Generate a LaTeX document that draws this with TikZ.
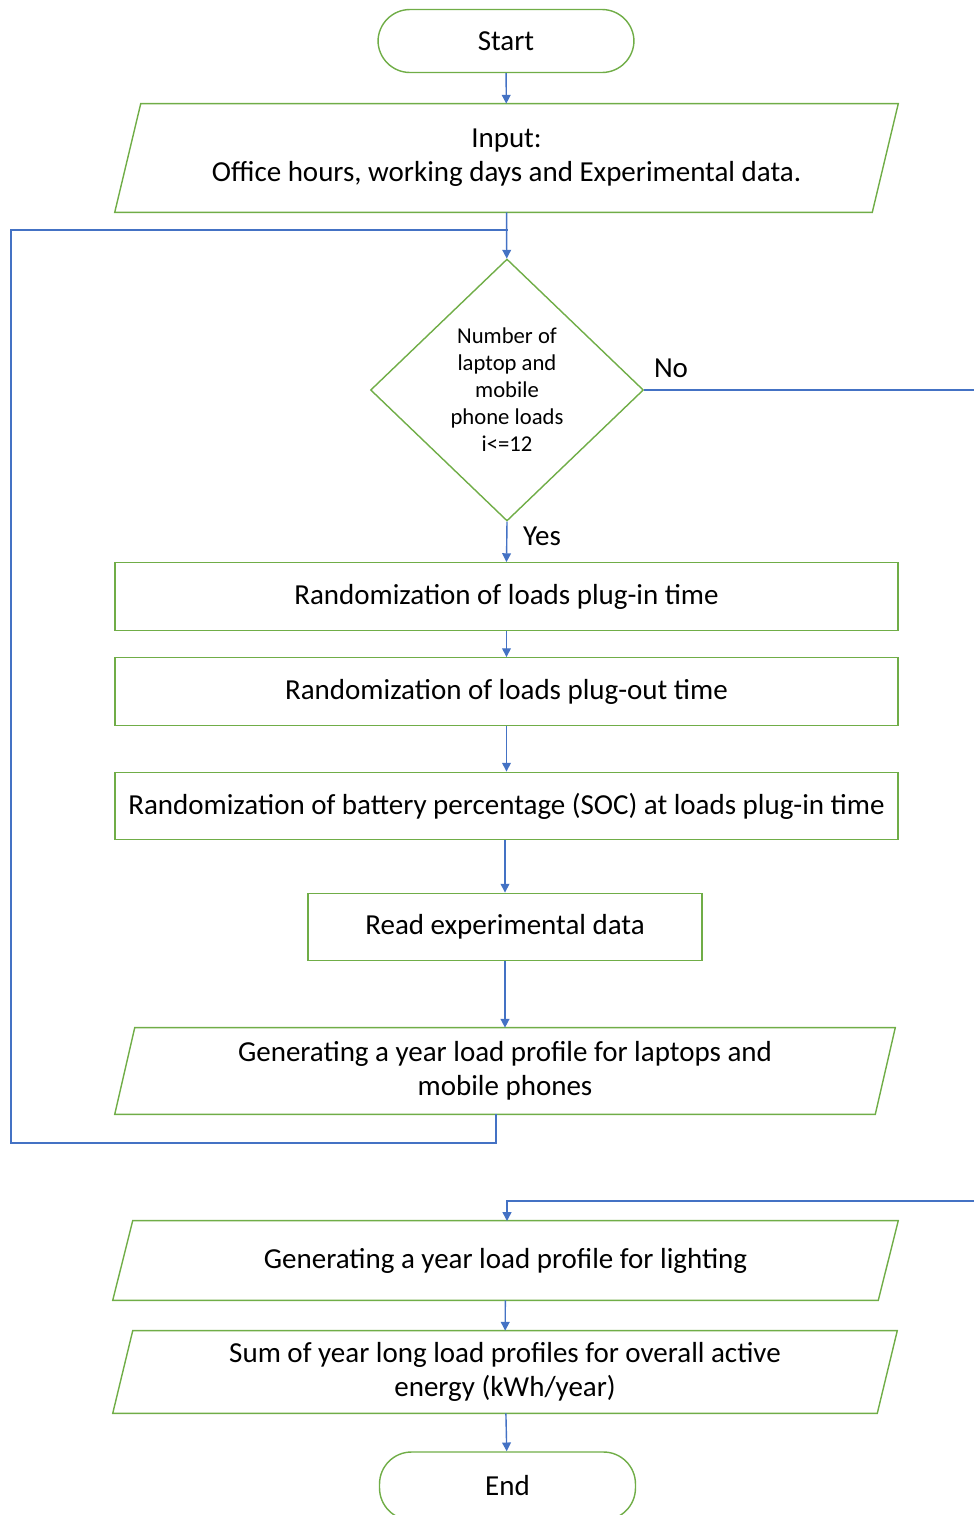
\documentclass[tikz,border=0pt]{standalone}
\usepackage{fontspec}
\setmainfont{Carlito}
\usepackage{tikz}
\usetikzlibrary{arrows.meta,calc,positioning,shapes.geometric}
\definecolor{boxgreen}{RGB}{112,173,71}
\definecolor{flowblue}{RGB}{68,114,196}
\tikzset{
    terminal/.style={rectangle,rounded corners=0.64cm,draw=boxgreen,line width=0.8pt,
      minimum width=5.12cm,minimum height=1.26cm,inner sep=0pt},
    iobox/.style={rectangle,align=center,inner sep=0pt},
    ioline/.style={draw=boxgreen,line width=0.8pt},
    procbox/.style={rectangle,draw=boxgreen,line width=0.8pt,minimum height=1.35cm,inner sep=0pt},
    decbox/.style={diamond,draw=boxgreen,line width=0.8pt,align=center,inner sep=0pt,
      minimum width=5.46cm,minimum height=5.24cm,font=\fontsize{12.9}{15.4}\selectfont},
    flow/.style={line width=0.8pt,draw=flowblue},
    arr/.style={flow,-{Triangle[length=5pt,width=5pt]}},
    every node/.style={font=\fontsize{16.5}{19.4}\selectfont}
}
\begin{document}
\begin{tikzpicture}[x=0.02cm,y=-0.02cm]
  \useasboundingbox (0,0) rectangle (974,1515);

  \node[terminal] (start) at (506,41) {Start};
  \node[iobox,minimum width=15.66cm,minimum height=2.16cm] (input) at (506.5,158)
    {Input:\\Office hours, working days and Experimental data.};
  \node[decbox] (dec) at (507,390)
    {Number of\\laptop and\\mobile\\phone loads\\i<=12};
  \node[procbox,minimum width=15.66cm] (plugin) at (506.5,596.5)
    {Randomization of loads plug-in time};
  \node[procbox,minimum width=15.66cm] (plugout) at (506.5,691.5)
    {Randomization of loads plug-out time};
  \node[procbox,minimum width=15.66cm] (soc) at (506.5,806)
    {Randomization of battery percentage (SOC) at loads plug-in time};
  \node[procbox,minimum width=7.88cm] (readdata) at (505,927)
    {Read experimental data};
  \node[iobox,minimum width=15.6cm,minimum height=1.72cm] (genlap) at (505,1071)
    {Generating a year load profile for laptops and\\mobile phones};
  \node[iobox,minimum width=15.7cm,minimum height=1.58cm] (genlight) at (505.5,1260.5)
    {Generating a year load profile for lighting};
  \node[iobox,minimum width=15.68cm,minimum height=1.64cm] (sumload) at (505,1372)
    {Sum of year long load profiles for overall active\\energy (kWh/year)};
  \node[terminal,minimum height=1.36cm] (finish) at (507.5,1486) {End};

  % slanted outlines of the input/output boxes
  \foreach \n/\s in {input/26,genlap/20,genlight/20,sumload/20}{
    \draw[ioline] (\n.south west) -- ($(\n.north west)+(\s,0)$) -- (\n.north east)
      -- ($(\n.south east)-(\s,0)$) -- cycle;
  }

  \coordinate (loopout) at (496,1114);
  \coordinate (loopcorner) at (11,1143);
  \coordinate (loopjoin) at (508,230);
  \coordinate (noout) at (974,390);
  \coordinate (noin) at (974,1201);
  \coordinate (lightin) at (507,1221);

  \draw[arr] (start) -- (input);
  \draw[arr] (input) -- (dec);
  \draw[flow] (loopout) |- (loopcorner) |- (loopjoin);
  \draw[flow] (dec.east) -- (noout);
  \node at (671,368) {No};
  \draw[arr] (dec.south) -- (plugin.north);
  \node at (542,536) {Yes};
  \draw[arr] (plugin) -- (plugout);
  \draw[arr] (plugout) -- (soc);
  \draw[arr] (soc.south -| readdata.north) -- (readdata);
  \draw[arr] (readdata) -- (genlap);
  \draw[arr] (noin) -| (lightin);
  \draw[arr] (genlight) -- (sumload);
  \draw[arr] (sumload) -- (finish);
\end{tikzpicture}
\end{document}
